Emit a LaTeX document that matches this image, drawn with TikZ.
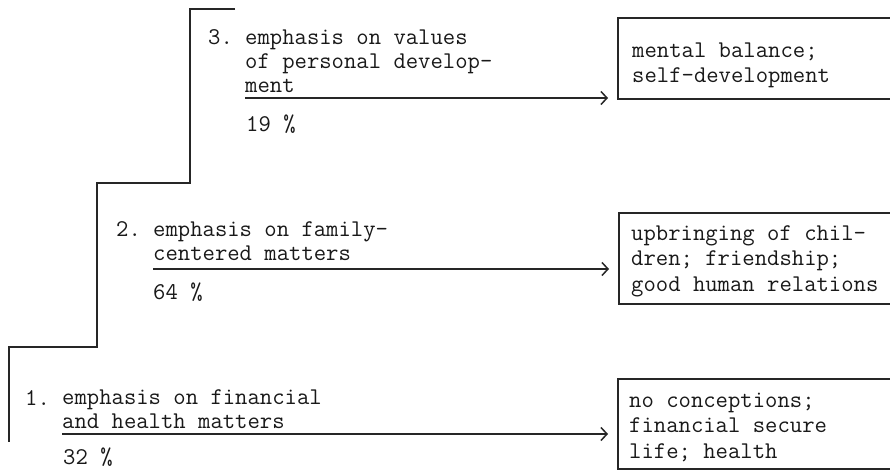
\documentclass[tikz,border=0pt]{standalone}
\usetikzlibrary{arrows.meta}
\begin{document}
\begin{tikzpicture}[x=1pt,y=-1pt,
  ink/.style={black!90},
  tw/.style={ink,font=\ttfamily\fontsize{24}{24}\selectfont,inner sep=0pt,anchor=base west,align=left},
  boxtext/.style={tw,font=\ttfamily\fontsize{24}{25.5}\selectfont},
  stair/.style={draw=black!85,line width=1.6pt},
  goal/.style={draw=black!85,line width=1.6pt,rectangle,inner sep=0pt,anchor=north west,minimum width=300pt},
  lead/.style={draw=black!85,line width=1.5pt,-{Straight Barb[length=6pt,width=13pt,line width=1.5pt]},shorten >=9pt}]
\useasboundingbox (0,0) rectangle (890,470);
\clip (0,0) rectangle (890,470);
\fill[white] (0,0) rectangle (890,470);

% staircase outline
\draw[stair] (235,9) -- (190,9) -- (190,183) -- (97,183) -- (97,347) -- (9,347) -- (9,442);

% level 3 (multi-line nodes sit on the baseline of their last line)
\node[tw] (n3) at (208,45) {3.};
\node[tw] (t3) at (245,93) {emphasis on values\\of personal develop-\\ment};
\node[tw] (p3) at (246,132) {19 \%};
\node[goal,minimum height=81pt] (b3) at (617,17) {};
\node[boxtext] (r3) at (632,83) {mental balance;\\self-development};
\coordinate (s3) at (245,98);
\draw[lead] (s3) -- (b3.west |- s3);

% level 2
\node[tw] (n2) at (116,236) {2.};
\node[tw] (t2) at (153,260) {emphasis on family-\\centered matters};
\node[tw] (p2) at (153,299) {64 \%};
\node[goal,minimum height=91pt] (b2) at (618,212) {};
\node[boxtext] (r2) at (631,291) {upbringing of chil-\\dren; friendship;\\good human relations};
\coordinate (s2) at (153,269);
\draw[lead] (s2) -- (b2.west |- s2);

% level 1
\node[tw] (n1) at (25,405) {1.};
\node[tw] (t1) at (62,428) {emphasis on financial\\and health matters};
\node[tw] (p1) at (63,464) {32 \%};
\node[goal,minimum height=90pt] (b1) at (617,378) {};
\node[boxtext] (r1) at (629,458) {no conceptions;\\financial secure\\life; health};
\coordinate (s1) at (62,434);
\draw[lead] (s1) -- (b1.west |- s1);
\end{tikzpicture}
\end{document}
